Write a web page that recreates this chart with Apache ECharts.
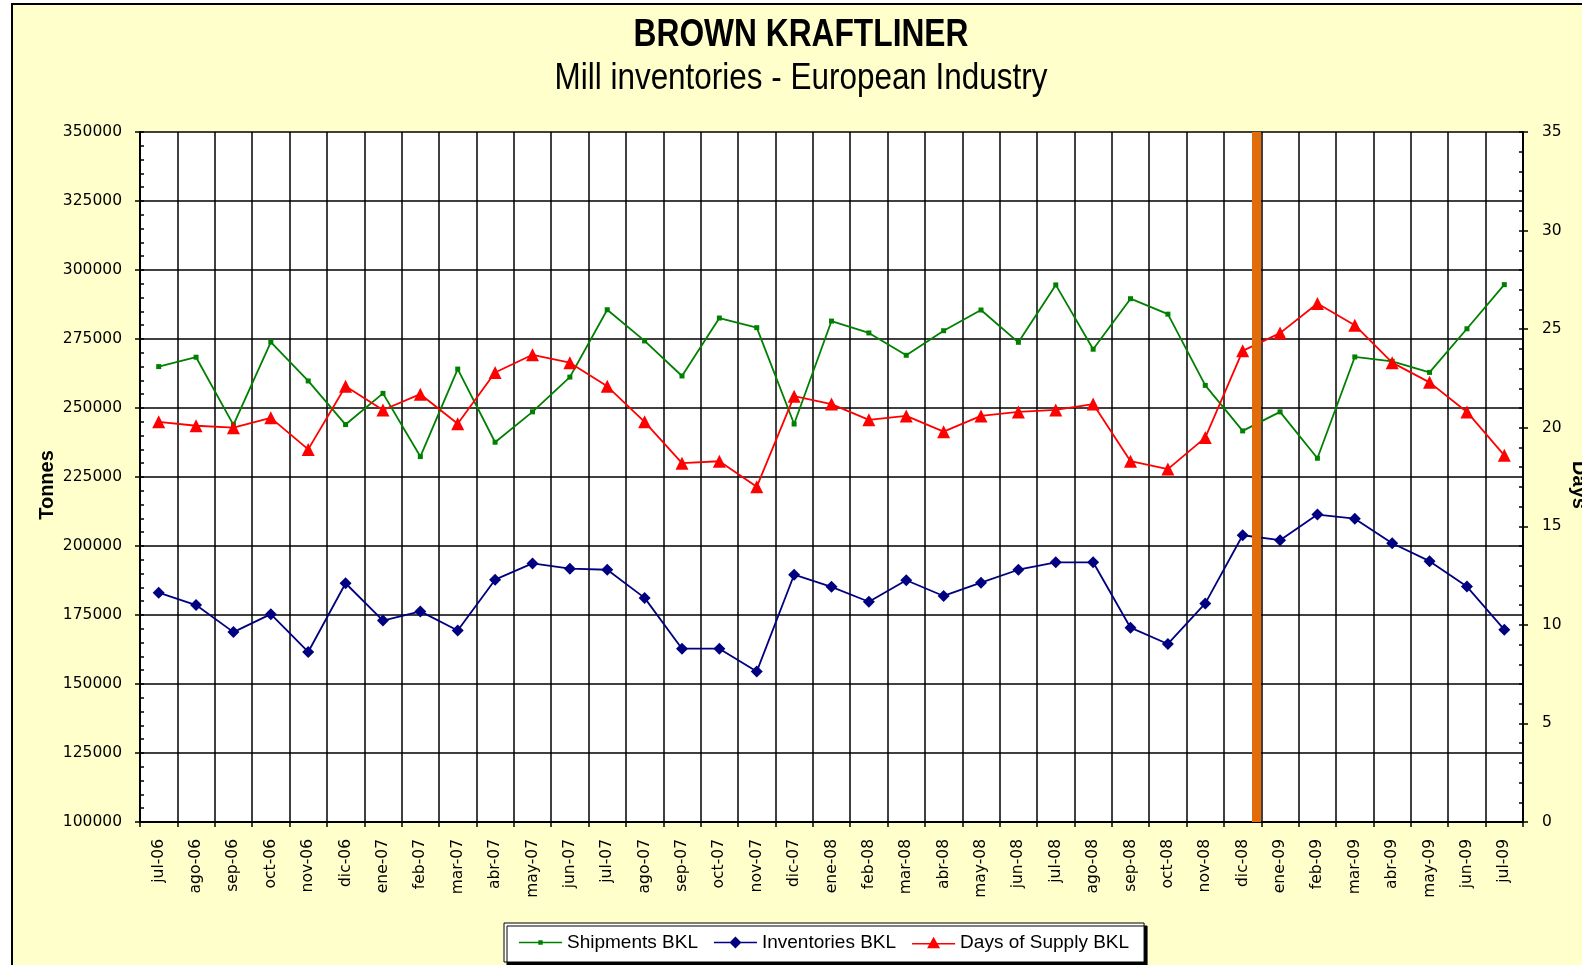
<!DOCTYPE html>
<html>
<head>
<meta charset="utf-8">
<title>Brown Kraftliner - Mill inventories</title>
<script src="https://cdn.jsdelivr.net/npm/echarts@6/dist/echarts.min.js"></script>
<style>
  html, body { margin: 0; padding: 0; background: #fff; }
  #chart { width: 1582px; height: 965px; }
</style>
</head>
<body>
<div id="chart"></div>
<script>
// months, jul-06 .. jul-09
const months = [
  'jul-06', 'ago-06', 'sep-06', 'oct-06', 'nov-06', 'dic-06',
  'ene-07', 'feb-07', 'mar-07', 'abr-07', 'may-07', 'jun-07',
  'jul-07', 'ago-07', 'sep-07', 'oct-07', 'nov-07', 'dic-07',
  'ene-08', 'feb-08', 'mar-08', 'abr-08', 'may-08', 'jun-08',
  'jul-08', 'ago-08', 'sep-08', 'oct-08', 'nov-08', 'dic-08',
  'ene-09', 'feb-09', 'mar-09', 'abr-09', 'may-09', 'jun-09', 'jul-09'
]

// tonnes
const shipmentsBKL = [
  265000, 268400, 243900, 273900, 259800, 244000,
  255300, 232400, 264100, 237600, 248600, 261200,
  285600, 274300, 261600, 282600, 279100, 244200,
  281500, 277200, 269100, 278000, 285500, 273800,
  294600, 271300, 289600, 284000, 258200, 241700,
  248600, 231800, 268500, 266900, 262900, 278700, 294700
]

const inventoriesBKL = [
  183100, 178600, 168800, 175300, 161600, 186500,
  173000, 176300, 169400, 187800, 193700, 191800,
  191400, 181200, 162800, 162800, 154500, 189600,
  185200, 179800, 187600, 181900, 186700, 191400,
  194100, 194100, 170400, 164500, 179200, 203900,
  202100, 211400, 209900, 201000, 194500, 185300, 169700
]

// days
const daysOfSupplyBKL = [
  20.3, 20.1, 20.0, 20.5, 18.9, 22.1,
  20.9, 21.7, 20.2, 22.8, 23.7, 23.3,
  22.1, 20.3, 18.2, 18.3, 17.0, 21.6,
  21.2, 20.4, 20.6, 19.8, 20.6, 20.8,
  20.9, 21.2, 18.3, 17.9, 19.5, 23.9,
  24.8, 26.3, 25.2, 23.3, 22.3, 20.8, 18.6
]

// orange divider, in category units from the left edge (end of dic-08)
const dividerAt = 29.87

const seriesNames = ['Shipments BKL', 'Inventories BKL', 'Days of Supply BKL']

// legend icons: line with the series marker on it
const legendIcons = [
  'path://M0,6.3H43V7.7H0Z M19.3,4.8H23.7V9.2H19.3Z',
  'path://M0,6.3H43V7.7H0Z M21.5,1L27.5,7L21.5,13L15.5,7Z',
  'path://M0,7.3H43V8.7H0Z M21.5,1L28,12.5L15,12.5Z'
]

const labelFont = { fontFamily: 'DejaVu Sans', fontSize: 15.5, color: '#000' }
const blackLine = { color: '#000', width: 2 }

const chart = echarts.init(document.getElementById('chart'))

chart.setOption({
  animation: false,
  backgroundColor: '#fff',
  graphic: [{
    type: 'rect',
    z: -10,
    silent: true,
    shape: { x: 12, y: 4, width: 1620, height: 1000 },
    style: { fill: '#FFFFCC', stroke: '#000', lineWidth: 2 }
  }, {
    // titles are squeezed a bit, the original uses a narrow face
    type: 'text',
    x: 801,
    y: 36,
    scaleX: 0.835,
    silent: true,
    style: {
      text: 'BROWN KRAFTLINER',
      font: "bold 38px 'Liberation Sans', sans-serif",
      fill: '#000',
      textAlign: 'center',
      textVerticalAlign: 'middle'
    }
  }, {
    type: 'text',
    x: 801,
    y: 79,
    scaleX: 0.85,
    silent: true,
    style: {
      text: 'Mill inventories - European Industry',
      font: "37px 'Liberation Sans', sans-serif",
      fill: '#000',
      textAlign: 'center',
      textVerticalAlign: 'middle'
    }
  }],
  legend: {
    data: seriesNames.map((name, i) => ({ name, icon: legendIcons[i] })),
    left: 504,
    top: 923,
    orient: 'horizontal',
    padding: [10, 15, 10, 15],
    itemWidth: 43,
    itemHeight: 14,
    itemGap: 16,
    backgroundColor: '#fff',
    borderColor: '#000',
    borderWidth: 1,
    borderRadius: 0,
    shadowColor: '#000',
    shadowBlur: 0,
    shadowOffsetX: 3,
    shadowOffsetY: 3,
    textStyle: { fontFamily: 'Liberation Sans', fontSize: 19, color: '#000' }
  },
  grid: {
    left: 140,
    right: 59,
    top: 132,
    bottom: 143,
    show: true,
    backgroundColor: '#fff',
    borderWidth: 0,
    outerBoundsMode: 'none'
  },
  xAxis: [{
    type: 'category',
    data: months,
    boundaryGap: true,
    axisLine: { lineStyle: blackLine },
    axisTick: { show: true, inside: false, length: 5, interval: 0, lineStyle: { color: '#000', width: 1.5 } },
    axisLabel: { ...labelFont, rotate: 90, interval: 0, margin: 17 },
    splitLine: { show: true, interval: 0, lineStyle: { color: '#000', width: 1.5 } }
  }, {
    type: 'value',
    show: false,
    min: 0,
    max: months.length
  }],
  yAxis: [{
    type: 'value',
    position: 'left',
    min: 100000,
    max: 350000,
    interval: 25000,
    name: 'Tonnes',
    nameLocation: 'middle',
    nameRotate: 90,
    nameGap: 83,
    nameMoveOverlap: false,
    nameTextStyle: { fontFamily: 'Liberation Sans', fontSize: 20, fontWeight: 'bold', color: '#000', padding: [0, 16, 0, 0] },
    axisLine: { show: true, lineStyle: blackLine },
    axisTick: { show: true, inside: false, length: 5, lineStyle: { color: '#000', width: 1.5 } },
    axisLabel: { ...labelFont, margin: 18, formatter: (v) => String(v) },
    splitLine: { show: true, lineStyle: { color: '#000', width: 1.5 } }
  }, {
    type: 'value',
    position: 'right',
    min: 0,
    max: 35,
    interval: 5,
    name: 'Days',
    nameLocation: 'middle',
    nameRotate: -90,
    nameGap: 46,
    nameMoveOverlap: false,
    nameTextStyle: { fontFamily: 'Liberation Sans', fontSize: 20, fontWeight: 'bold', color: '#000', padding: [0, 0, 0, 16] },
    axisLine: { show: true, lineStyle: blackLine },
    axisTick: { show: true, inside: false, length: 5, lineStyle: { color: '#000', width: 1.5 } },
    axisLabel: { ...labelFont, margin: 19 },
    splitLine: { show: false }
  }, {
    // minor ticks for the left axis, drawn inside
    type: 'value',
    position: 'left',
    min: 100000,
    max: 350000,
    interval: 5000,
    axisLine: { show: false },
    axisTick: { show: true, inside: true, length: 4, lineStyle: { color: '#000', width: 1.5 } },
    axisLabel: { show: false },
    splitLine: { show: false }
  }, {
    // minor ticks for the right axis
    type: 'value',
    position: 'right',
    min: 0,
    max: 35,
    interval: 1,
    axisLine: { show: false },
    axisTick: { show: true, inside: true, length: 4, lineStyle: { color: '#000', width: 1.5 } },
    axisLabel: { show: false },
    splitLine: { show: false }
  }],
  series: [{
    name: 'Shipments BKL',
    type: 'line',
    xAxisIndex: 0,
    yAxisIndex: 0,
    data: shipmentsBKL,
    symbol: 'rect',
    symbolSize: 5,
    itemStyle: { color: '#008000' },
    lineStyle: { color: '#008000', width: 1.8 }
  }, {
    name: 'Inventories BKL',
    type: 'line',
    xAxisIndex: 0,
    yAxisIndex: 0,
    data: inventoriesBKL,
    symbol: 'diamond',
    symbolSize: 12,
    itemStyle: { color: '#000080' },
    lineStyle: { color: '#000080', width: 1.8 }
  }, {
    name: 'Days of Supply BKL',
    type: 'line',
    xAxisIndex: 0,
    yAxisIndex: 1,
    data: daysOfSupplyBKL,
    symbol: 'triangle',
    symbolSize: 13,
    itemStyle: { color: '#FF0000' },
    lineStyle: { color: '#FF0000', width: 1.8 }
  }, {
    name: 'divider',
    type: 'line',
    xAxisIndex: 1,
    yAxisIndex: 0,
    data: [],
    z: 10,
    silent: true,
    markLine: {
      silent: true,
      symbol: ['none', 'none'],
      label: { show: false },
      lineStyle: { color: '#E36C0A', width: 9, type: 'solid' },
      emphasis: { disabled: true },
      data: [{ xAxis: dividerAt }]
    }
  }]
})
</script>
</body>
</html>
